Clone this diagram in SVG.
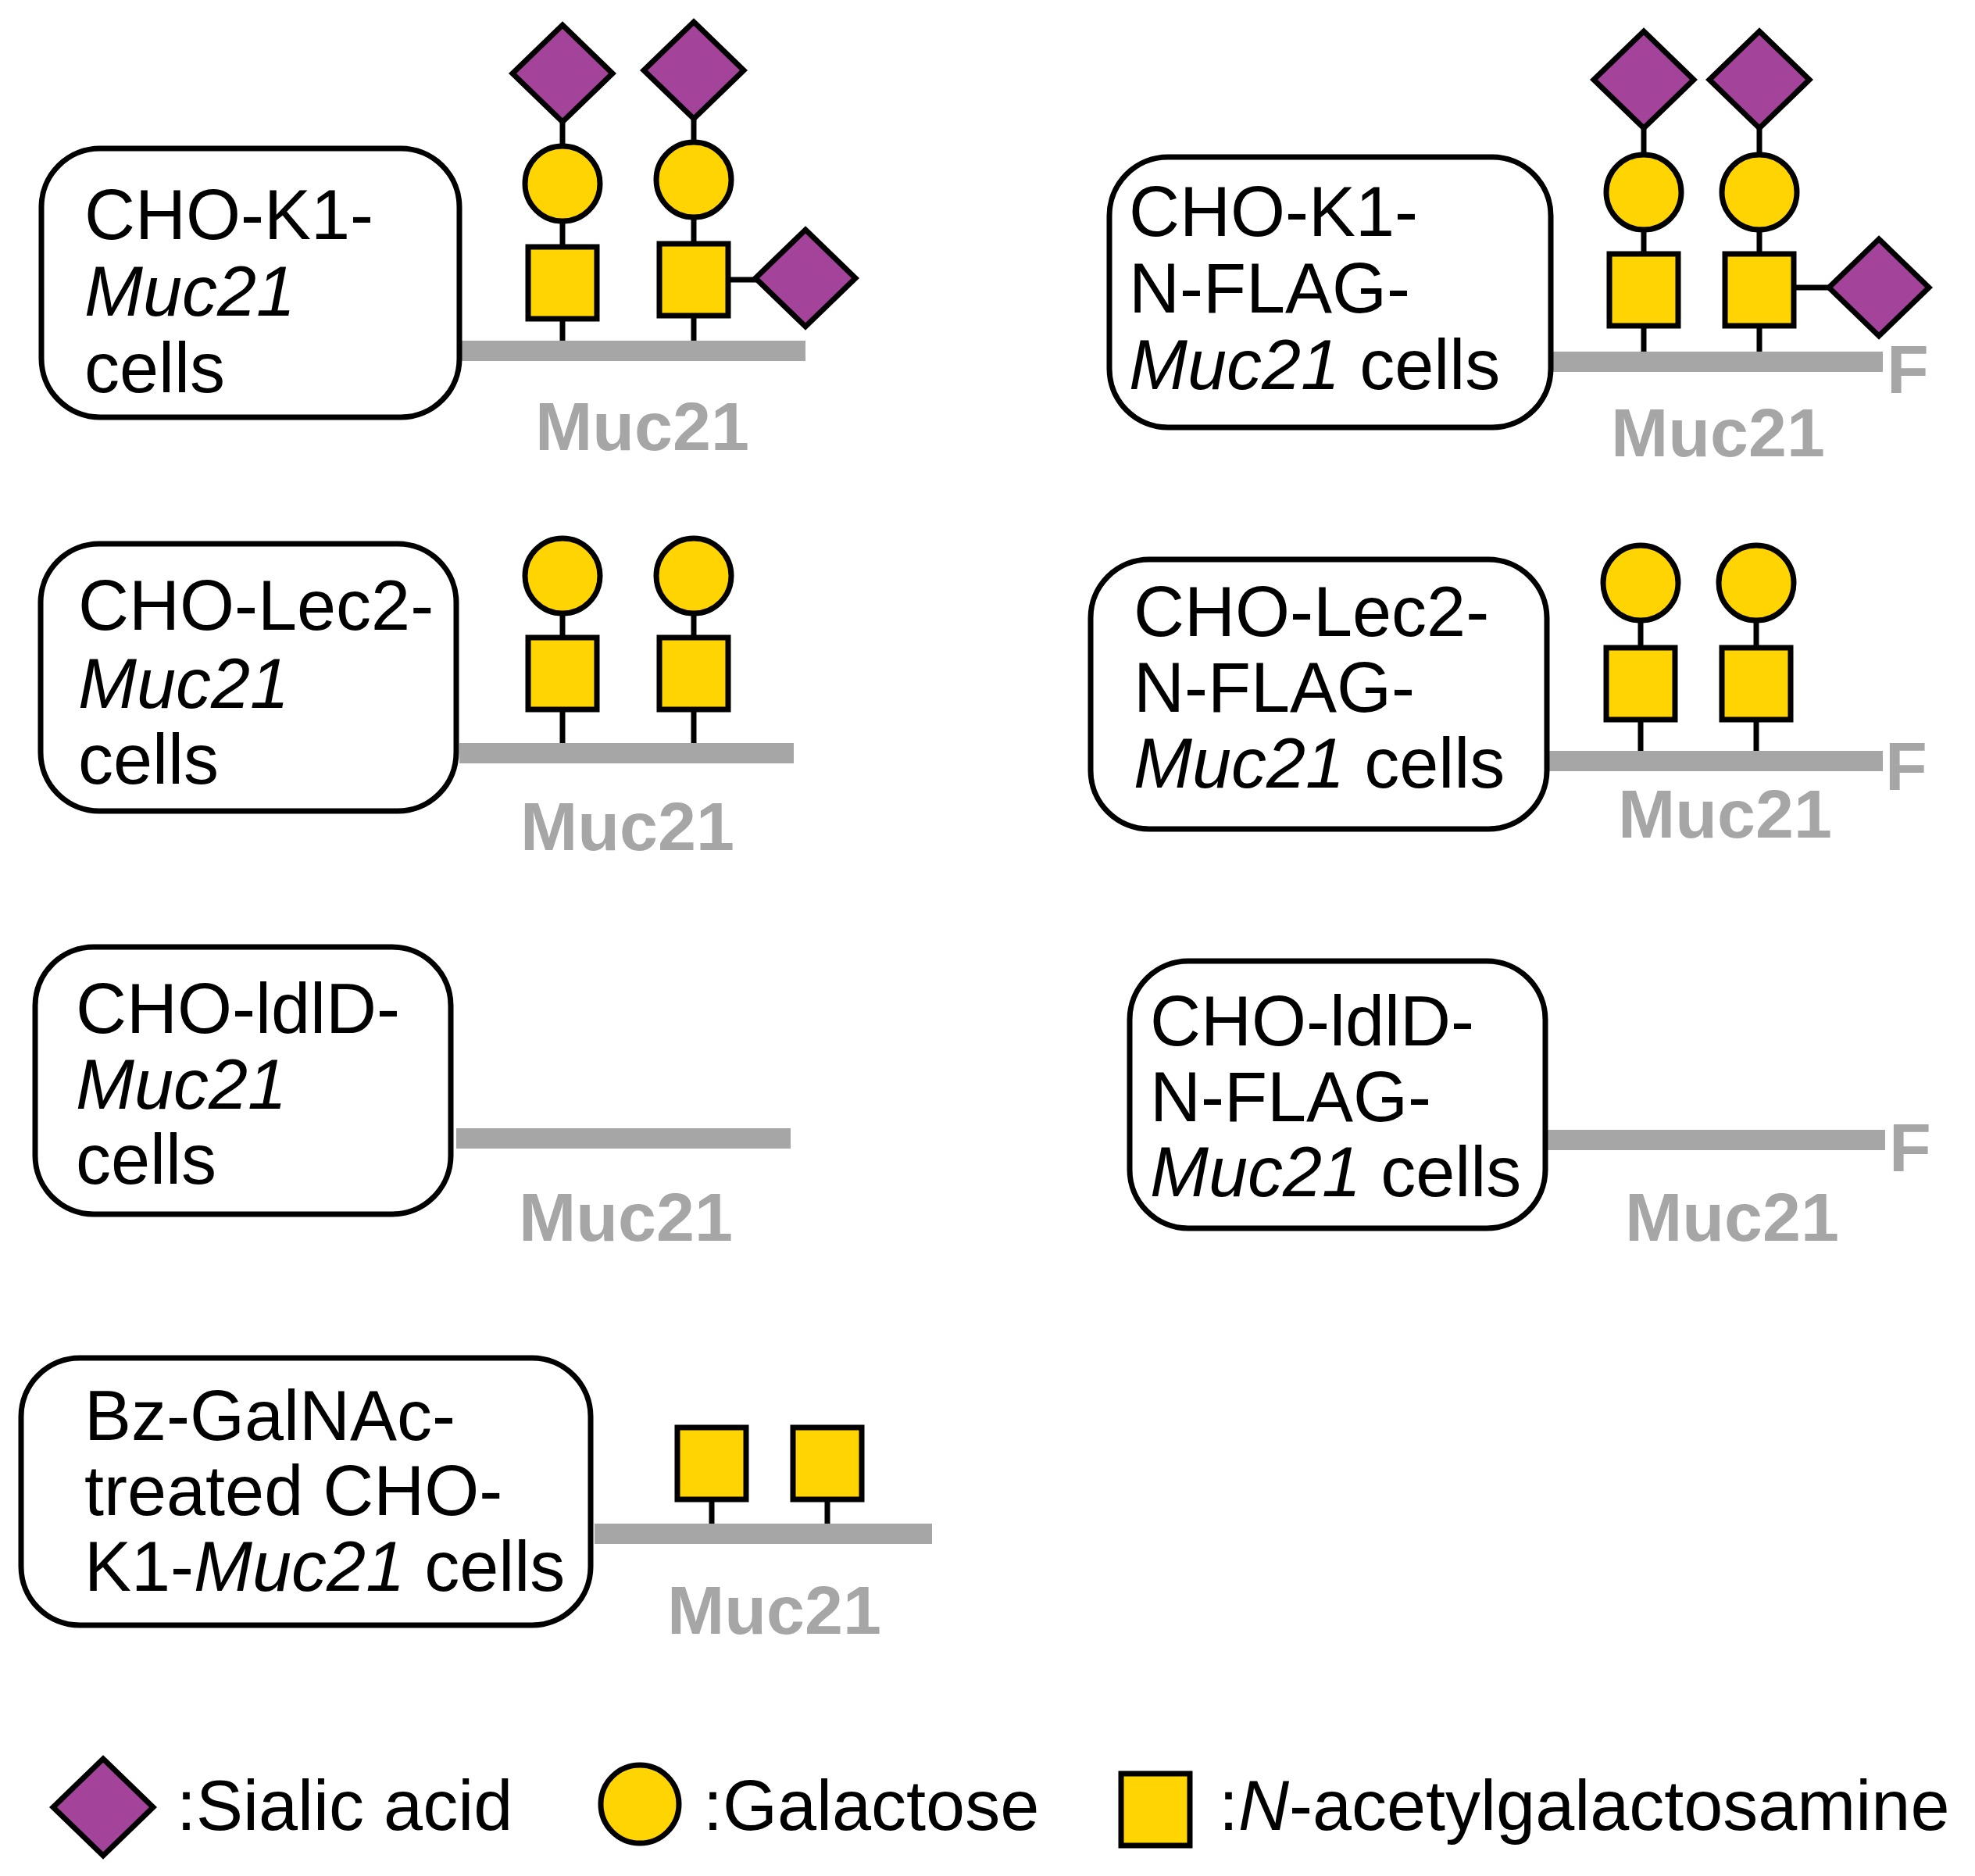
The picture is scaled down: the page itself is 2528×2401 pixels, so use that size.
<svg xmlns="http://www.w3.org/2000/svg" xmlns:xlink="http://www.w3.org/1999/xlink" width="2528" height="2401" viewBox="0 0 2528 2401">
<style>
.box{fill:#fff;stroke:#000;stroke-width:7}
.t{font-family:"Liberation Sans",Arial,sans-serif;font-size:90px;fill:#000}
.i{font-style:italic}
.lab{font-family:"Liberation Sans",Arial,sans-serif;font-size:88px;font-weight:bold;fill:#a6a6a6}
.bar{stroke:#a6a6a6;stroke-width:26}
.stem{stroke:#000;stroke-width:7}
.sa{fill:#a4439a;stroke:#000;stroke-width:7;stroke-linejoin:miter}
.gal{fill:#ffd400;stroke:#000;stroke-width:7}
</style>
<defs>
<path id="dia" class="sa" d="M0,-62 L64,0 L0,62 L-64,0 Z"/>
<circle id="cir" class="gal" r="48"/>
<rect id="sq" class="gal" x="-44" y="-46" width="88" height="92"/>
</defs>
<g id="connectors">
<line class="bar" x1="588" y1="449" x2="1031" y2="449"/>
<line class="stem" x1="720" y1="94" x2="720" y2="436"/>
<line class="stem" x1="888" y1="90" x2="888" y2="436"/>
<line class="stem" x1="888" y1="358" x2="1031" y2="358"/>
<line class="bar" x1="1983" y1="463" x2="2410" y2="463"/>
<line class="stem" x1="2104" y1="102" x2="2104" y2="450"/>
<line class="stem" x1="2252" y1="102" x2="2252" y2="450"/>
<line class="stem" x1="2252" y1="368" x2="2405" y2="368"/>
<line class="bar" x1="588" y1="964" x2="1016" y2="964"/>
<line class="stem" x1="720" y1="737" x2="720" y2="951"/>
<line class="stem" x1="888" y1="737" x2="888" y2="951"/>
<line class="bar" x1="1983" y1="974" x2="2410" y2="974"/>
<line class="stem" x1="2100" y1="746" x2="2100" y2="961"/>
<line class="stem" x1="2248" y1="746" x2="2248" y2="961"/>
<line class="bar" x1="584" y1="1457" x2="1012" y2="1457"/>
<line class="bar" x1="1980" y1="1459" x2="2413" y2="1459"/>
<line class="bar" x1="761" y1="1963" x2="1193" y2="1963"/>
<line class="stem" x1="911" y1="1873" x2="911" y2="1950"/>
<line class="stem" x1="1059" y1="1873" x2="1059" y2="1950"/>
</g>
<g id="p1">
<rect class="box" x="53" y="190" width="535" height="344" rx="75"/>
<text class="t" x="108" y="306">CHO-K1-</text>
<text class="t i" x="108" y="404">Muc21</text>
<text class="t" x="108" y="502">cells</text>
<use href="#dia" x="720" y="94"/><use href="#cir" x="720" y="235"/><use href="#sq" x="720" y="362"/>
<use href="#dia" x="888" y="90"/><use href="#cir" x="888" y="230"/><use href="#sq" x="888" y="358"/>
<use href="#dia" x="1031" y="356"/>
<text class="lab" x="685" y="576">Muc21</text>
</g>
<g id="p2">
<rect class="box" x="1420" y="201" width="565" height="346" rx="75"/>
<text class="t" x="1445" y="302">CHO-K1-</text>
<text class="t" x="1445" y="400">N-FLAG-</text>
<text class="t" x="1445" y="498"><tspan class="i">Muc21</tspan> cells</text>
<use href="#dia" x="2104" y="102"/><use href="#cir" x="2104" y="246"/><use href="#sq" x="2104" y="371"/>
<use href="#dia" x="2252" y="102"/><use href="#cir" x="2252" y="246"/><use href="#sq" x="2252" y="371"/>
<use href="#dia" x="2405" y="368"/>
<text class="lab" x="2415" y="503">F</text>
<text class="lab" x="2062" y="584">Muc21</text>
</g>
<g id="p3">
<rect class="box" x="52" y="696" width="532" height="342" rx="75"/>
<text class="t" x="100" y="806">CHO-Lec2-</text>
<text class="t i" x="100" y="906">Muc21</text>
<text class="t" x="100" y="1003">cells</text>
<use href="#cir" x="720" y="737"/><use href="#sq" x="720" y="862"/>
<use href="#cir" x="888" y="737"/><use href="#sq" x="888" y="862"/>
<text class="lab" x="666" y="1088">Muc21</text>
</g>
<g id="p4">
<rect class="box" x="1396" y="716" width="584" height="345" rx="75"/>
<text class="t" x="1451" y="814">CHO-Lec2-</text>
<text class="t" x="1451" y="911">N-FLAG-</text>
<text class="t" x="1451" y="1008"><tspan class="i">Muc21</tspan> cells</text>
<use href="#cir" x="2100" y="746"/><use href="#sq" x="2100" y="875"/>
<use href="#cir" x="2248" y="746"/><use href="#sq" x="2248" y="875"/>
<text class="lab" x="2413" y="1011">F</text>
<text class="lab" x="2071" y="1072">Muc21</text>
</g>
<g id="p5">
<rect class="box" x="45" y="1212" width="532" height="342" rx="75"/>
<text class="t" x="97" y="1322">CHO-ldlD-</text>
<text class="t i" x="97" y="1419">Muc21</text>
<text class="t" x="97" y="1515">cells</text>
<text class="lab" x="664" y="1588">Muc21</text>
</g>
<g id="p6">
<rect class="box" x="1446" y="1230" width="532" height="342" rx="75"/>
<text class="t" x="1472" y="1338">CHO-ldlD-</text>
<text class="t" x="1472" y="1435">N-FLAG-</text>
<text class="t" x="1472" y="1531"><tspan class="i">Muc21</tspan> cells</text>
<text class="lab" x="2418" y="1499">F</text>
<text class="lab" x="2080" y="1588">Muc21</text>
</g>
<g id="p7">
<rect class="box" x="27" y="1738" width="729" height="342" rx="75"/>
<text class="t" x="108" y="1843">Bz-GalNAc-</text>
<text class="t" x="108" y="1939">treated CHO-</text>
<text class="t" x="108" y="2036">K1-<tspan class="i">Muc21</tspan> cells</text>
<use href="#sq" x="911" y="1873"/><use href="#sq" x="1059" y="1873"/>
<text class="lab" x="854" y="2091">Muc21</text>
</g>
<g id="legend">
<use href="#dia" x="132" y="2313"/>
<text class="t" x="226" y="2342">:Sialic acid</text>
<circle class="gal" cx="819" cy="2309" r="50"/>
<text class="t" x="900" y="2342">:Galactose</text>
<rect class="gal" x="1435" y="2270" width="88" height="92"/>
<text class="t" x="1560" y="2342">:<tspan class="i">N</tspan>-acetylgalactosamine</text>
</g>
</svg>
